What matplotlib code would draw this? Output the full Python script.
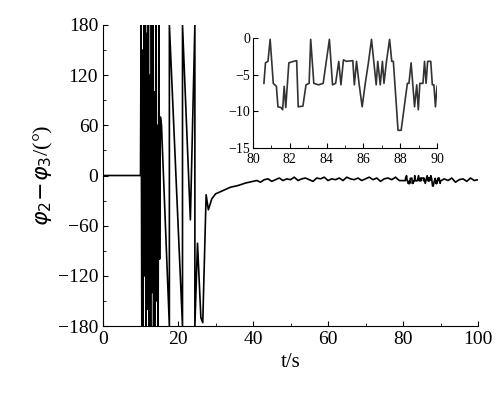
import matplotlib
matplotlib.use("Agg")
import matplotlib.pyplot as plt
import numpy as np

# chaotic start: alternating wrap values (t, value)
chaos_t = [0, 10, 10.15, 10.35, 10.5, 10.7, 10.9, 11.1, 11.3, 11.5, 11.7, 11.9, 12.1, 12.3,
           12.5, 12.7, 12.9, 13.1, 13.3, 13.5, 13.7, 13.9, 14.1, 14.3, 14.5, 14.7, 14.9, 15.1, 15.3,
           15.6, 17.7]
chaos_v = [0, 0, 180, -180, 150, -180, 180, -120, 180, -180, 170, -160, 180, -180, 120,
           -180, 180, -140, 180, -180, 100, -180, 180, -150, 60, -180, 180, -100, 70,
           60, -180]
# slow slips after the chaos (wrap segments)
slip_t = [17.7, 21.2, 21.2, 23.3, 24.5, 24.5, 25.2, 26.1, 26.6, 27.5, 28.1, 29, 30, 32, 34, 36, 38, 40]
slip_v = [180, -180, 180, -53, 180, -180, -81, -170, -176, -23, -41, -28, -22, -18, -14, -12, -9, -7]
# settled noise 40..80 (1 s steps)
tail_t = list(range(41, 80))
tail_v = [-6, -8, -5, -4, -7, -5, -3, -6, -4, -5, -2, -6, -4, -3, -5, -7, -3, -4, -2, -6,
          -4, -5, -3, -6, -2, -4, -5, -3, -6, -4, -2, -5, -3, -7, -4, -3, -5, -2, -6]
# zoomed window 80..90
ins_x = [35, 40, 48, 55, 65, 75, 80, 90, 95, 100, 105, 115, 130, 140, 145, 160, 170, 180, 185,
         195, 210, 225, 235, 245, 255, 265, 275, 282, 290, 300, 320, 325, 332, 340, 350, 360,
         370, 380, 395, 400, 408, 415, 420, 428, 438, 445, 450, 460, 465, 475, 485, 495, 500,
         507, 518, 525, 530, 535, 545, 550, 555, 560, 570, 575, 580, 585, 590]
ins_t = [80 + x / 59 for x in ins_x]
ins_v = [-6.2, -3.4, -3.2, -0.2, -6.2, -6.6, -9.4, -9.5, -9.8, -6.6, -9.5, -3.4, -3.2, -3.1,
         -9.4, -9.3, -6.4, -6.2, -0.2, -6.2, -6.4, -6.2, -3.2, -0.2, -6.4, -6.2, -3.2, -6.4,
         -3.0, -3.2, -3.1, -6.4, -3.2, -6.2, -9.4, -6.2, -3.4, -0.2, -6.4, -3.2, -6.4, -3.2,
         -6.2, -3.2, -0.2, -3.2, -3.2, -9.4, -12.6, -12.6, -9.4, -6.2, -6.2, -3.4, -9.4, -6.4,
         -9.8, -6.2, -6.2, -3.2, -6.2, -3.2, -3.2, -6.4, -6.4, -9.4, -6.6]
end_t = list(range(91, 101))
end_v = [-4, -6, -3, -8, -5, -4, -7, -3, -6, -5]

t = chaos_t + slip_t + tail_t + ins_t + end_t
v = chaos_v + slip_v + tail_v + ins_v + end_v

plt.rcParams['font.family'] = ['Liberation Serif']
fig = plt.figure(figsize=(5, 4.03), dpi=100)
ax = fig.add_axes([0.206, 0.191, 0.75, 0.747])
ax.plot(t, v, color='black', lw=1.2)
ax.set_xlim(0, 100)
ax.set_ylim(-180, 180)
ax.set_xticks(range(0, 101, 20))
ax.set_xticks(range(0, 101, 10), minor=True)
ax.set_yticks(range(-180, 181, 60))
ax.set_yticks(range(-180, 181, 30), minor=True)
ax.tick_params(direction='in', labelsize=14)
ax.tick_params(which='minor', direction='in')
ax.spines['top'].set_visible(False)
ax.spines['right'].set_visible(False)
ax.set_xlabel('t/s', fontsize=15)
ax.set_ylabel(r'$\varphi_2\!-\!\varphi_3$/(°)', fontsize=16, labelpad=2)

ins = fig.add_axes([0.506, 0.633, 0.368, 0.273])
ins.plot(ins_t, ins_v, color='#333333', lw=1.2)
ins.set_xlim(80, 90)
ins.set_ylim(-15, 0)
ins.set_xticks(range(80, 91, 2))
ins.set_xticks(range(80, 91, 1), minor=True)
ins.set_yticks([0, -5, -10, -15])
ins.tick_params(direction='in', labelsize=10, pad=2)
ins.tick_params(axis='x', pad=4)
ins.tick_params(which='minor', direction='in')
ins.spines['top'].set_visible(False)
ins.spines['right'].set_visible(False)

fig.savefig('out.png', dpi=100)
